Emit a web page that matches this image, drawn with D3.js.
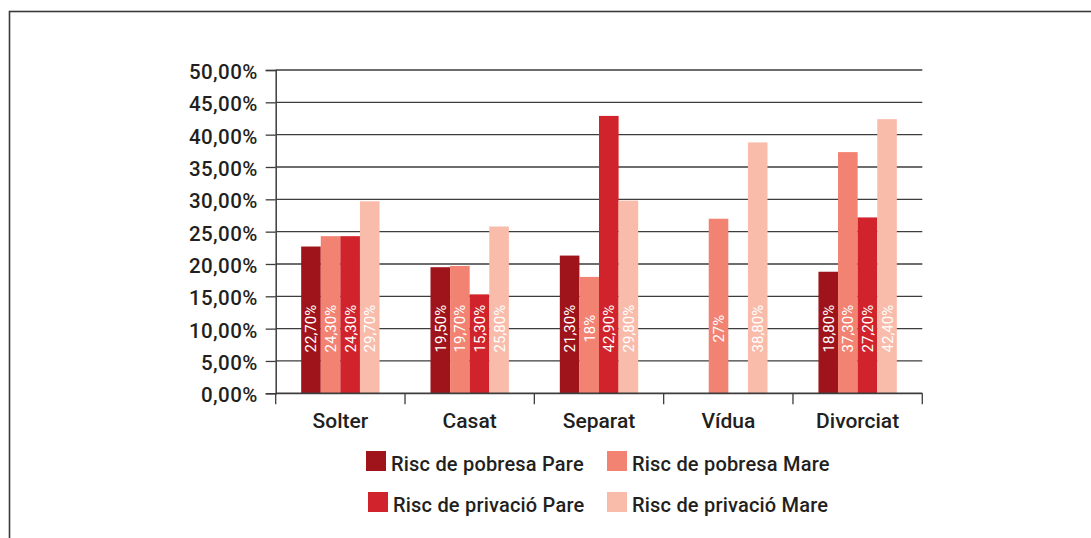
<!DOCTYPE html>
<html>
<head>
<meta charset="utf-8">
<script src="https://cdn.jsdelivr.net/npm/d3@7"></script>
<style>
  html, body { margin: 0; padding: 0; background: #fff; }
  svg { display: block; }
  text { font-family: Roboto, "Noto Sans", sans-serif; fill: #231f20; }
</style>
</head>
<body>
<svg id="chart" width="1091" height="538"></svg>
<script>
const categories = ["Solter", "Casat", "Separat", "Vídua", "Divorciat"];
const seriesNames = ["Risc de pobresa Pare", "Risc de pobresa Mare", "Risc de privació Pare", "Risc de privació Mare"];
const seriesColors = ["#9e141a", "#f28272", "#d0232b", "#f9bcab"];
const pobresaPare  = [22.7, 19.5, 21.3, null, 18.8];
const pobresaMare  = [24.3, 19.7, 18.0, 27.0, 37.3];
const privacioPare = [24.3, 15.3, 42.9, null, 27.2];
const privacioMare = [29.7, 25.8, 29.8, 38.8, 42.4];
const yTicks = [0, 5, 10, 15, 20, 25, 30, 35, 40, 45, 50];

const seriesValues = [pobresaPare, pobresaMare, privacioPare, privacioMare];
const fmtLabel = v => (Number.isInteger(v) ? String(v) : v.toFixed(1).replace(".", ",") + "0") + "%";

const svg = d3.select("#chart");

// outer frame
svg.append("rect").attr("x", 9.5).attr("y", 11.5).attr("width", 1100).attr("height", 560)
  .attr("fill", "none").attr("stroke", "#3a3a3a").attr("stroke-width", 1.6);

const mLeft = 275.7, mRight = 922.3, mTop = 70, mBottom = 393.3;
const x = d3.scaleBand().domain(categories).range([mLeft, mRight]);
const xs = d3.scaleBand().domain(d3.range(4)).range([0, x.bandwidth()]).paddingOuter(1.3).paddingInner(0);
const y = d3.scaleLinear().domain([0, 50]).range([mBottom, mTop]);

// gridlines
svg.append("g").selectAll("line").data(yTicks.filter(t => t > 0)).join("line")
  .attr("x1", mLeft).attr("x2", mRight)
  .attr("y1", d => y(d)).attr("y2", d => y(d))
  .attr("stroke", "#3d3d3d").attr("stroke-width", 1.3);

// y axis
const yAxis = svg.append("g").attr("transform", `translate(${mLeft},0)`)
  .call(d3.axisLeft(y).tickValues(yTicks).tickFormat(d => d.toFixed(2).replace(".", ",") + "%").tickSize(10).tickPadding(8));
yAxis.select(".domain").attr("stroke", "#3d3d3d").attr("stroke-width", 1.5);
yAxis.selectAll(".tick line").attr("stroke", "#3d3d3d").attr("stroke-width", 1.3);
yAxis.selectAll(".tick text").attr("font-size", 20.5).attr("font-weight", 500)
  .attr("letter-spacing", 0.4)
  .attr("fill", "#231f20").attr("font-family", "Roboto").attr("dy", "0.42em");

// bars
const groups = svg.append("g").selectAll("g").data(categories).join("g")
  .attr("transform", d => `translate(${x(d)},0)`);
groups.each(function(cat, ci) {
  const g = d3.select(this);
  const rows = seriesValues.map((arr, si) => ({ si, v: arr[ci] })).filter(d => d.v != null);
  g.selectAll("rect").data(rows).join("rect")
    .attr("x", d => xs(d.si)).attr("width", xs.bandwidth())
    .attr("y", d => y(d.v)).attr("height", d => y(0) - y(d.v))
    .attr("fill", d => seriesColors[d.si]);
  g.selectAll("text").data(rows).join("text")
    .attr("transform", d => `translate(${xs(d.si) + xs.bandwidth() / 2 + 5.5},${y(10)}) rotate(-90)`)
    .attr("text-anchor", "middle")
    .attr("font-size", 15)
    .style("fill", "#fff")
    .text(d => fmtLabel(d.v));
});

// x axis
const xAxisG = svg.append("g").attr("transform", `translate(0,${mBottom})`);
xAxisG.append("line").attr("x1", mLeft).attr("x2", mRight).attr("y1", 0).attr("y2", 0)
  .attr("stroke", "#3d3d3d").attr("stroke-width", 1.8);
const boundaries = categories.map(c => x(c)).concat([mRight]);
xAxisG.selectAll("line.tk").data(boundaries).join("line").attr("class", "tk")
  .attr("x1", d => d).attr("x2", d => d).attr("y1", 0).attr("y2", 11)
  .attr("stroke", "#3d3d3d").attr("stroke-width", 1.3);
xAxisG.selectAll("text").data(categories).join("text")
  .attr("x", d => x(d) + x.bandwidth() / 2).attr("y", 35)
  .attr("text-anchor", "middle").attr("font-size", 21).attr("font-weight", 500).text(d => d);

// legend
const legendPos = [[366, 451], [607, 451], [368, 492], [607, 492]];
const leg = svg.append("g").selectAll("g").data(seriesNames).join("g")
  .attr("transform", (d, i) => `translate(${legendPos[i][0]},${legendPos[i][1]})`);
leg.append("rect").attr("width", 20).attr("height", 20).attr("fill", (d, i) => seriesColors[i]);
leg.append("text").attr("x", 25).attr("y", 20).attr("font-size", 20).attr("font-weight", 500)
  .attr("letter-spacing", 0.2).text(d => d);
</script>
</body>
</html>
